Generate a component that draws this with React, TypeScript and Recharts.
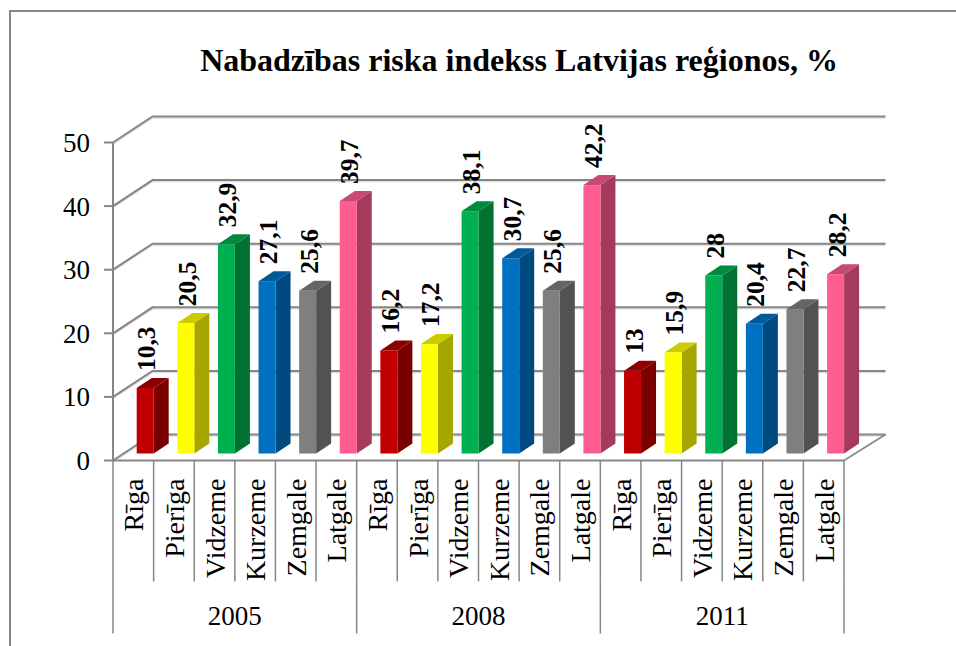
import { Bar, BarChart, CartesianGrid, LabelList, XAxis, YAxis } from "recharts";

const years = ["2005", "2008", "2011"];
const regions = ["Rīga", "Pierīga", "Vidzeme", "Kurzeme", "Zemgale", "Latgale"];
const values2005 = [10.3, 20.5, 32.9, 27.1, 25.6, 39.7];
const values2008 = [16.2, 17.2, 38.1, 30.7, 25.6, 42.2];
const values2011 = [13, 15.9, 28, 20.4, 22.7, 28.2];
const yTicks = [0, 10, 20, 30, 40, 50];

const rows = [values2005, values2008, values2011].flatMap((values, y) =>
  values.map((value, r) => ({
    key: `${years[y]}-${regions[r]}`,
    year: years[y],
    region: regions[r],
    value,
  })),
);

// front, side, top face per region
const faces = [
  ["#C00000", "#7A0000", "#8E0000"],
  ["#FFFF00", "#A6A600", "#CCCC00"],
  ["#00B050", "#007332", "#008A3E"],
  ["#0070C0", "#004A80", "#005A9A"],
  ["#7F7F7F", "#525252", "#656565"],
  ["#FF5C8F", "#A63A5D", "#C74A72"],
];

const AXIS = "#868686";
const SERIF = '"Liberation Serif", serif';
const WALL_DX = 39.5;
const WALL_DY = -26;
const BAR_DX = 11.7;
const BAR_DY = -7;
const SIDE_DX = 15;
const SIDE_DY = -10;

function WallLine(props: any) {
  const { x1, x2, y1, index } = props;
  const bx1 = x1 + WALL_DX;
  const bx2 = x2 + 41.5;
  const by = y1 + WALL_DY;
  const path = `M${x1},${y1}L${bx1},${by}L${bx2},${by}`;
  return (
    <g>
      <path d={path} transform="translate(0,1.5)" fill="none" stroke="#dedede" strokeWidth={1.5} />
      <path d={path} fill="none" stroke={AXIS} strokeWidth={2} />
      {index === 0 && (
        <path d={`M${x2},${y1}L${bx2},${by}`} fill="none" stroke={AXIS} strokeWidth={1.5} />
      )}
    </g>
  );
}

function Bar3D(props: any) {
  const { x, y, width, height, index } = props;
  const [front, side, top] = faces[index % 6];
  const fx = x + BAR_DX;
  const fy = y + BAR_DY;
  const rx = fx + width;
  return (
    <g>
      <polygon
        points={`${rx},${fy} ${rx + SIDE_DX},${fy + SIDE_DY} ${rx + SIDE_DX},${fy + height + SIDE_DY} ${rx},${fy + height}`}
        fill={side}
      />
      <polygon
        points={`${fx},${fy} ${fx + SIDE_DX},${fy + SIDE_DY} ${rx + SIDE_DX},${fy + SIDE_DY} ${rx},${fy}`}
        fill={top}
      />
      <rect x={fx} y={fy} width={width} height={height} fill={front} />
    </g>
  );
}

function ValueLabel(props: any) {
  const { x, y, width, value } = props;
  const lx = x + width + BAR_DX + 1.5;
  const ly = y + BAR_DY - 17;
  return (
    <text
      x={lx}
      y={ly}
      transform={`rotate(-90 ${lx} ${ly})`}
      fontFamily={SERIF}
      fontWeight="bold"
      fontSize={25.5}
      fill="#000"
    >
      {String(value).replace(".", ",")}
    </text>
  );
}

function RegionTick(props: any) {
  const { x, y, payload, index } = props;
  const half = payload.offset ?? 20.3;
  const region = rows[index].region;
  const top = y - 8;
  const bottom = top + 121;
  const tx = x + 10;
  const ty = top + 18;
  return (
    <g>
      {index === 0 && <line x1={x - half} x2={x - half} y1={top} y2={bottom} stroke={AXIS} strokeWidth={1.5} />}
      <line x1={x + half} x2={x + half} y1={top} y2={bottom} stroke={AXIS} strokeWidth={1.5} />
      <text
        x={tx}
        y={ty}
        transform={`rotate(-90 ${tx} ${ty})`}
        textAnchor="end"
        fontFamily={SERIF}
        fontSize={28}
        fill="#000"
      >
        {region}
      </text>
    </g>
  );
}

function YearTick(props: any) {
  const { x, y, payload, index } = props;
  const half = payload.offset ?? 20.3;
  const top = y - 8;
  const bottom = top + 52;
  return (
    <g>
      {index % 6 === 0 && <line x1={x - half} x2={x - half} y1={top} y2={bottom} stroke={AXIS} strokeWidth={1.5} />}
      {index === rows.length - 1 && <line x1={x + half} x2={x + half} y1={top} y2={bottom} stroke={AXIS} strokeWidth={1.5} />}
      {index % 6 === 2 && (
        <text x={x + half} y={top + 43} textAnchor="middle" fontFamily={SERIF} fontSize={27} fill="#000">
          {rows[index].year}
        </text>
      )}
    </g>
  );
}

export default function App() {
  return (
    <div style={{ position: "absolute", left: 0, top: 0, width: 956, height: 646, background: "#fff", overflow: "hidden" }}>
      <div
        style={{
          position: "absolute",
          left: 9,
          top: 10,
          width: 960,
          height: 635,
          borderLeft: `2px solid ${AXIS}`,
          borderTop: `2px solid ${AXIS}`,
        }}
      />
      <div style={{ position: "absolute", left: 0, top: 0 }}>
        <BarChart
          width={956}
          height={646}
          data={rows}
          margin={{ top: 142.5, right: 112, bottom: 12.5, left: 0 }}
          barSize={17}
          style={{ fontFamily: SERIF }}
        >
          <text x={519} y={71} textAnchor="middle" fontFamily={SERIF} fontWeight="bold" fontSize={32} fill="#000">
            Nabadzības riska indekss Latvijas reģionos, %
          </text>
          <CartesianGrid vertical={false} horizontal={WallLine} stroke={AXIS} />
          <XAxis
            dataKey="key"
            interval={0}
            height={121}
            axisLine={{ stroke: AXIS, strokeWidth: 2 }}
            tickLine={false}
            tick={RegionTick}
          />
          <XAxis
            dataKey="key"
            xAxisId="year"
            interval={0}
            height={52}
            axisLine={false}
            tickLine={false}
            tick={YearTick}
          />
          <YAxis
            domain={[0, 50]}
            ticks={yTicks}
            width={113}
            tickSize={9}
            tickMargin={14}
            axisLine={{ stroke: AXIS, strokeWidth: 2 }}
            tickLine={{ stroke: AXIS, strokeWidth: 2 }}
            tick={{ fill: "#000", fontSize: 27, fontFamily: SERIF }}
          />
          <Bar dataKey="value" isAnimationActive={false} shape={Bar3D}>
            <LabelList dataKey="value" content={ValueLabel} />
          </Bar>
        </BarChart>
      </div>
    </div>
  );
}
